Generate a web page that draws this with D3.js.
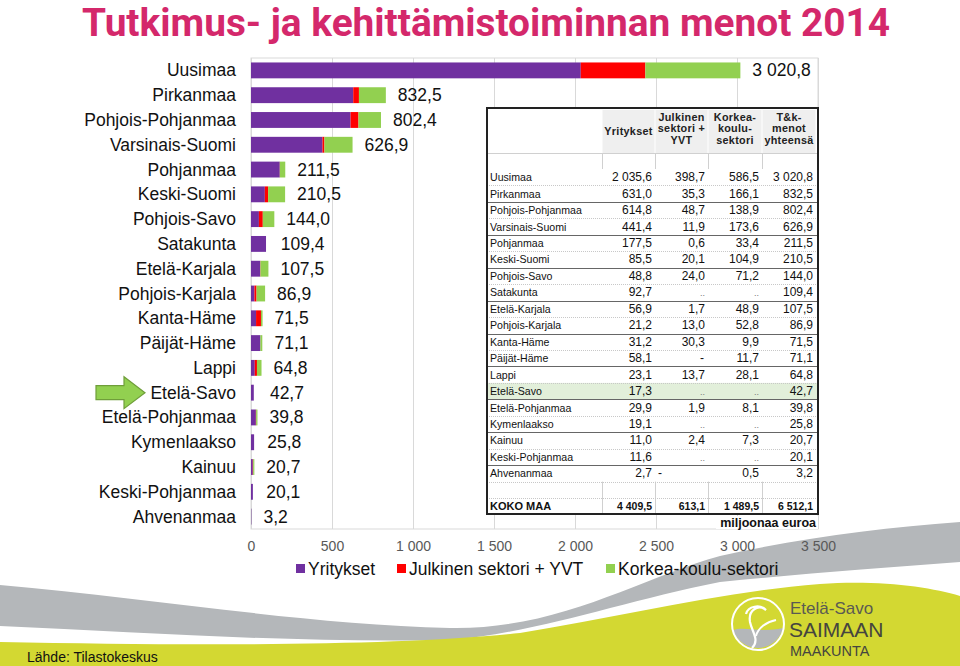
<!DOCTYPE html>
<html><head><meta charset="utf-8">
<script src="https://cdn.jsdelivr.net/npm/d3@7"></script>
<style>
html,body{margin:0;padding:0;background:#fff;}
svg{display:block;font-family:"Liberation Sans",Arial,sans-serif;}
</style></head>
<body>
<svg id="c" width="960" height="666"></svg>
<script>
const regions = ["Uusimaa","Pirkanmaa","Pohjois-Pohjanmaa","Varsinais-Suomi","Pohjanmaa","Keski-Suomi","Pohjois-Savo","Satakunta","Etelä-Karjala","Pohjois-Karjala","Kanta-Häme","Päijät-Häme","Lappi","Etelä-Savo","Etelä-Pohjanmaa","Kymenlaakso","Kainuu","Keski-Pohjanmaa","Ahvenanmaa"];
const yritykset = [2035.6,631.0,614.8,441.4,177.5,85.5,48.8,92.7,56.9,21.2,31.2,58.1,23.1,17.3,29.9,19.1,11.0,11.6,2.7];
const julkinen = [398.7,35.3,48.7,11.9,0.6,20.1,24.0,"..",1.7,13.0,30.3,"-",13.7,"..",1.9,"..",2.4,"..","-"];
const korkea = [586.5,166.1,138.9,173.6,33.4,104.9,71.2,"..",48.9,52.8,9.9,11.7,28.1,"..",8.1,"..",7.3,"..",0.5];
const yhteensa = [3020.8,832.5,802.4,626.9,211.5,210.5,144.0,109.4,107.5,86.9,71.5,71.1,64.8,42.7,39.8,25.8,20.7,20.1,3.2];
const kokoMaa = [4409.5,613.1,1489.5,6512.1];
const seriesNames = ["Yritykset","Julkinen sektori + YVT","Korkea-koulu-sektori"];
const tableHeaders = [["Yritykset"],["Julkinen","sektori +","YVT"],["Korkea-","koulu-","sektori"],["T&k-","menot","yhteensä"]];
const xTicks = [0,500,1000,1500,2000,2500,3000,3500];
const highlight = "Etelä-Savo";
const leftDash = ["Ahvenanmaa"];
const titleText = "Tutkimus- ja kehittämistoiminnan menot 2014";
const colors = ["#7030A0","#FF0000","#92D050"];

const loc = d3.formatLocale({decimal:",",thousands:" ",grouping:[3],currency:["",""]});
const f1 = loc.format(",.1f"), f0 = loc.format(",.0f");
const num = v => typeof v === "number" ? v : 0;
const svg = d3.select("#c");

// ---- decoration at bottom
svg.append("path").attr("fill","#b4b7ba")
  .attr("d","M0,585 C150,598 300,624 450,628 C560,630 640,578 720,556 C800,538 880,528 960,522 L960,562 C880,568 800,574 720,582 C620,602 540,632 450,640 C300,643 150,633 0,626 Z");
svg.append("path").attr("fill","#d3d832")
  .attr("d","M0,642 C200,646 400,646 520,633 C620,617 720,592 820,584 C880,580 930,587 960,596 L960,666 L0,666 Z");

// ---- title
svg.append("text").attr("x",82).attr("y",36).attr("textLength",808).attr("lengthAdjust","spacingAndGlyphs")
  .style("font-family","'Liberation Sans Narrow','Arial Narrow',Roboto,sans-serif").style("font-weight","bold")
  .style("font-size","39px").attr("fill","#d4286b").text(titleText);

// ---- chart
const x = d3.scaleLinear().domain([0,3500]).range([251,818]);
const y = d3.scaleBand().domain(regions).range([58,529]).paddingInner(0.36).paddingOuter(0.18);

const g = svg.append("g");
g.append("rect").attr("x",x(0)).attr("y",58).attr("width",x(3500)-x(0)).attr("height",471)
  .attr("fill","none").attr("stroke","#d9d9d9");
g.selectAll("line.grid").data(xTicks).join("line").attr("class","grid")
  .attr("x1",d=>x(d)+0.5).attr("x2",d=>x(d)+0.5).attr("y1",58).attr("y2",529).attr("stroke","#d9d9d9");

const rows = regions.map((r,i)=>({r, v:[num(yritykset[i]),num(julkinen[i]),num(korkea[i])], t:yhteensa[i]}));
const stack = d3.stack().keys([0,1,2]).value((d,k)=>d.v[k])(rows);
g.selectAll("g.s").data(stack).join("g").attr("class","s").attr("fill",(d,i)=>colors[i])
  .selectAll("rect").data(d=>d).join("rect")
  .attr("x",d=>x(d[0])).attr("width",d=>Math.max(0,x(d[1])-x(d[0])))
  .attr("y",d=>y(d.data.r)).attr("height",y.bandwidth());

g.selectAll("text.val").data(rows).join("text").attr("class","val")
  .attr("x",d=>x(d.t)+12).attr("y",d=>y(d.r)+y.bandwidth()/2+6)
  .style("font-size","17.5px").attr("fill","#111").text(d=>f1(d.t));

g.selectAll("text.cat").data(regions).join("text").attr("class","cat")
  .attr("x",236).attr("y",d=>y(d)+y.bandwidth()/2+6).attr("text-anchor","end")
  .style("font-size","17.5px").attr("fill","#111").text(d=>d);

const ax = g.append("g").attr("transform","translate(0,529)")
  .call(d3.axisBottom(x).tickValues(xTicks).tickFormat(f0).tickSize(0).tickPadding(12));
ax.select(".domain").remove();
ax.selectAll("text").style("font-size","14px").style("font-family","'Liberation Sans',Arial,sans-serif").attr("fill","#595959");

// arrow
const cy = y(highlight)+y.bandwidth()/2;
g.append("path").attr("fill","#92D050").attr("stroke","#6f9e3a").attr("stroke-width",1.2)
  .attr("d",`M96,${cy-7} L124,${cy-7} L124,${cy-16} L145,${cy} L124,${cy+16} L124,${cy+7} L96,${cy+7} Z`);

// ---- table
const T = {x0:487,x1:818,y0:108,y1:514};
const colR = [602,655,708,762,816];
const t = svg.append("g");
t.append("rect").attr("x",T.x0).attr("y",T.y0).attr("width",T.x1-T.x0).attr("height",T.y1-T.y0).attr("fill","#fff");
const ty = d3.scaleBand().domain(regions).range([169,481.6]);
// header
tableHeaders.forEach((h,i)=>{
  t.append("rect").attr("x",colR[i]+0.5).attr("y",110).attr("width",colR[i+1]-colR[i]-1).attr("height",43).attr("fill","#efefef");
  const cx=(colR[i]+colR[i+1])/2;
  const base = h.length===1 ? 135 : 120.5;
  h.forEach((s,k)=>t.append("text").attr("x",cx).attr("y",base+k*11.5).attr("text-anchor","middle")
    .style("font-size","10.8px").style("font-weight","bold").style("letter-spacing","0.3px").attr("fill","#222").text(s));
});
// empty rows cell lines
[[153,169],[481.6,498],[498,514]].forEach(([a,b])=>{
  colR.slice(0,4).forEach(c=>t.append("line").attr("x1",c+0.5).attr("x2",c+0.5).attr("y1",a).attr("y2",b).attr("stroke","#d0d0d0"));
});
t.append("line").attr("x1",T.x0).attr("x2",T.x1).attr("y1",153.5).attr("y2",153.5).attr("stroke","#d0d0d0");
// highlight
t.append("rect").attr("x",T.x0+1).attr("y",ty(highlight)).attr("width",T.x1-T.x0-2).attr("height",ty.bandwidth()).attr("fill","#e2efda");
// row lines
regions.forEach((r,i)=>{
  const yy = Math.round(ty(r)+ty.bandwidth())+0.5;
  t.append("line").attr("x1",T.x0).attr("x2",T.x1).attr("y1",yy).attr("y2",yy)
   .attr("stroke", i%2===1 ? "#666" : "#c8c8c8").attr("stroke-dasharray", i%2===1 ? null : "1,1");
});
t.append("line").attr("x1",T.x0).attr("x2",T.x1).attr("y1",498.5).attr("y2",498.5).attr("stroke","#c8c8c8").attr("stroke-dasharray","1,1");
const cols=[yritykset,julkinen,korkea,yhteensa];
regions.forEach((r,i)=>{
  const by = ty(r)+ty.bandwidth()/2+4;
  t.append("text").attr("x",490).attr("y",by).style("font-size","10.6px").attr("fill","#111").text(r);
  cols.forEach((c,k)=>{
    const v=c[i];
    if(typeof v==="number"){
      t.append("text").attr("x",colR[k+1]-3).attr("y",by).attr("text-anchor","end").style("font-size","12px").attr("fill","#111").text(f1(v));
    } else if(v===".."){
      t.append("text").attr("x",colR[k+1]-3).attr("y",by).attr("text-anchor","end").style("font-size","9px").attr("fill","#777").text("..");
    } else {
      const left = leftDash.includes(r);
      t.append("text").attr("x",left?colR[k]+3:colR[k+1]-4).attr("y",by).attr("text-anchor",left?"start":"end").style("font-size","12px").attr("fill","#111").text(v);
    }
  });
});
t.append("text").attr("x",490).attr("y",510).style("font-size","11px").style("font-weight","bold").attr("fill","#111").text("KOKO MAA");
kokoMaa.forEach((v,k)=>t.append("text").attr("x",colR[k+1]-3).attr("y",510).attr("text-anchor","end")
  .style("font-size","10.5px").style("font-weight","bold").attr("fill","#111").text(f1(v)));
t.append("rect").attr("x",T.x0).attr("y",T.y0).attr("width",T.x1-T.x0).attr("height",T.y1-T.y0)
  .attr("fill","none").attr("stroke","#222").attr("stroke-width",2);
t.append("rect").attr("x",716).attr("y",516).attr("width",102).attr("height",13).attr("fill","#fff");
t.append("text").attr("x",816).attr("y",527).attr("text-anchor","end").style("font-size","12.5px").style("font-weight","bold")
  .attr("fill","#111").text("miljoonaa  euroa");

// ---- legend
const lx=[296,397,606];
seriesNames.forEach((s,i)=>{
  svg.append("rect").attr("x",lx[i]).attr("y",564).attr("width",9).attr("height",9).attr("fill",colors[i]);
  svg.append("text").attr("x",lx[i]+12).attr("y",575).style("font-size","17.5px").attr("fill","#111").text(s);
});

// ---- logo
const lg = svg.append("g");
lg.append("circle").attr("cx",758).attr("cy",624).attr("r",26).attr("fill","#d3d832");
lg.append("path").attr("fill","#b4b7ba").attr("d","M733,630 C745,626 760,633 783,628 A26,26 0 0 1 733,630 Z");
lg.append("circle").attr("cx",758).attr("cy",624).attr("r",26).attr("fill","none").attr("stroke","#fff").attr("stroke-width",2);
lg.append("path").attr("fill","none").attr("stroke","#fff").attr("stroke-width",2.2)
  .attr("d","M752,648 C760,640 752,632 750,622 C748,610 758,604 766,610 C760,604 748,606 746,614");
lg.append("path").attr("fill","none").attr("stroke","#fff").attr("stroke-width",2)
  .attr("d","M756,636 C758,628 766,622 776,620");
lg.append("text").attr("x",790).attr("y",614).style("font-size","17px").attr("fill","#5a5a52").text("Etelä-Savo");
lg.append("text").attr("x",789).attr("y",637).style("font-size","21px").attr("fill","#45453f").text("SAIMAAN");
lg.append("text").attr("x",790).attr("y",656).style("font-size","14.5px").attr("fill","#45453f").text("MAAKUNTA");

svg.append("text").attr("x",27).attr("y",662).style("font-size","14px").attr("fill","#111").text("Lähde: Tilastokeskus");
</script>
</body></html>
